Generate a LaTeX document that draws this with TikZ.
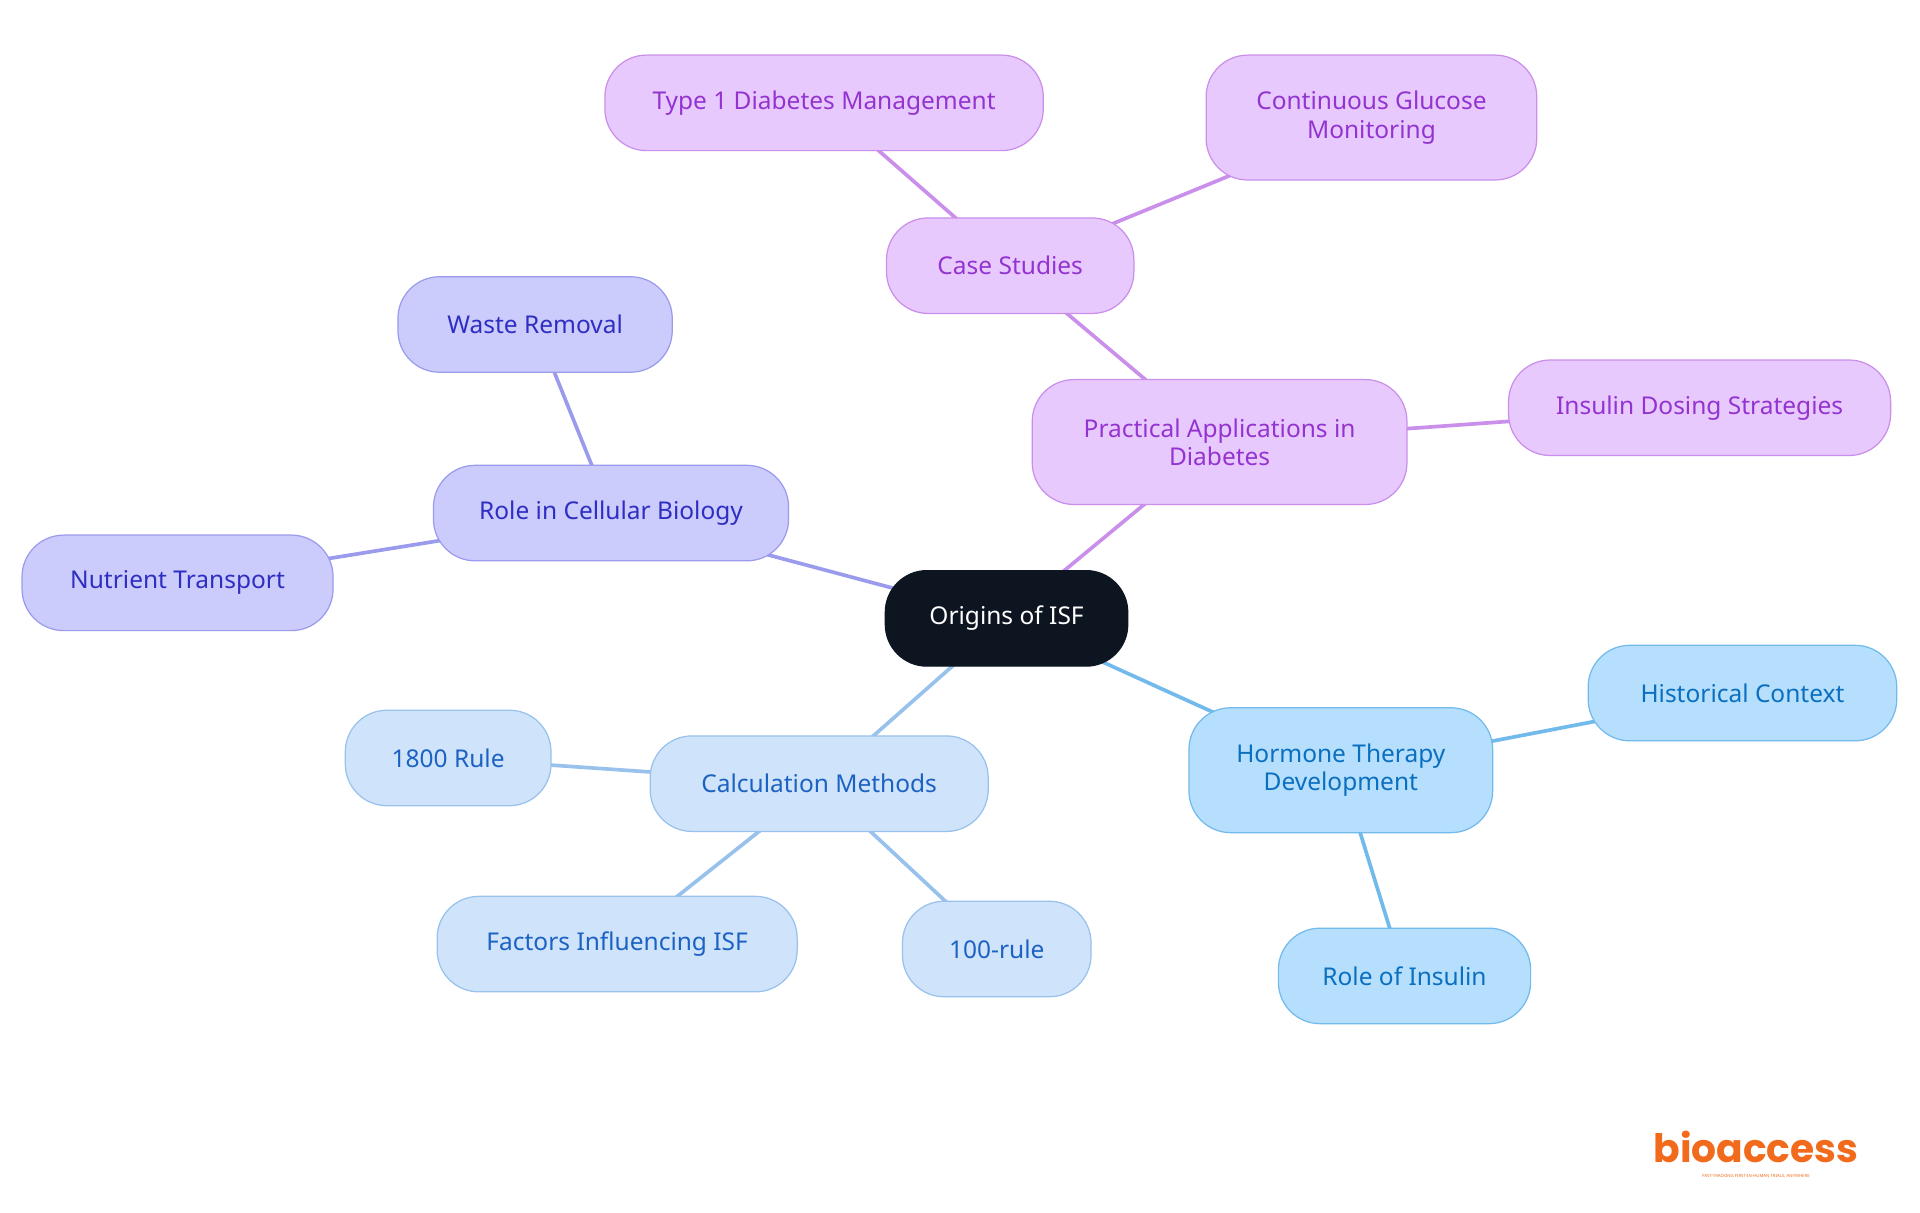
\documentclass[tikz,border=0pt]{standalone}
\usepackage{fontspec}
\setmainfont{Noto Sans}
\newfontfamily\logofont{Poppins}[UprightFont=* Bold]
\usetikzlibrary{backgrounds}
\definecolor{pfill}{HTML}{E8C9FD}\definecolor{pdraw}{HTML}{C98FEA}\definecolor{ptext}{HTML}{9333D0}
\definecolor{ifill}{HTML}{CBCBFC}\definecolor{idraw}{HTML}{9B9BEE}\definecolor{itext}{HTML}{2E2EC2}
\definecolor{lfill}{HTML}{CFE3FB}\definecolor{ldraw}{HTML}{98C1EC}\definecolor{ltext}{HTML}{1B62C2}
\definecolor{sfill}{HTML}{B5DFFC}\definecolor{sdraw}{HTML}{72B9EC}\definecolor{stext}{HTML}{0B6FC0}
\definecolor{rootc}{HTML}{0C1520}\definecolor{logo}{HTML}{F26A1B}
\tikzset{
 box/.style={rounded corners=34pt,line width=1pt,align=center,font=\fontsize{20}{23}\selectfont,inner sep=0pt},
 pn/.style={box,fill=pfill,draw=pdraw,text=ptext},
 inn/.style={box,fill=ifill,draw=idraw,text=itext},
 ln/.style={box,fill=lfill,draw=ldraw,text=ltext},
 sn/.style={box,fill=sfill,draw=sdraw,text=stext},
 ed/.style={line width=3pt}
}
\begin{document}
\begin{tikzpicture}[x=1pt,y=-1pt]
\useasboundingbox (0,0) rectangle (1568,990);
\node[box,fill=rootc,draw=rootc,text=white,minimum width=198pt,minimum height=78pt] (root) at (822,505) {Origins of ISF};
\node[pn,minimum width=306pt,minimum height=102pt] (pa) at (996,361) {Practical Applications in\\Diabetes};
\node[pn,minimum width=202pt,minimum height=78pt] (cs) at (825,217) {Case Studies};
\node[pn,minimum width=358pt,minimum height=78pt] (t1) at (673,84) {Type 1 Diabetes Management};
\node[pn,minimum width=270pt,minimum height=102pt] (cg) at (1120,96) {Continuous Glucose\\Monitoring};
\node[pn,minimum width=312pt,minimum height=78pt] (ids) at (1388,333) {Insulin Dosing Strategies};
\node[inn,minimum width=290pt,minimum height=78pt] (rc) at (499,419) {Role in Cellular Biology};
\node[inn,minimum width=224pt,minimum height=78pt] (wr) at (437,265) {Waste Removal};
\node[inn,minimum width=254pt,minimum height=78pt] (nt) at (145,476) {Nutrient Transport};
\node[ln,minimum width=276pt,minimum height=78pt] (cm) at (669,640) {Calculation Methods};
\node[ln,minimum width=168pt,minimum height=78pt] (r18) at (366,619) {1800 Rule};
\node[ln,minimum width=294pt,minimum height=78pt] (fi) at (504,771) {Factors Influencing ISF};
\node[ln,minimum width=154pt,minimum height=78pt] (r100) at (814,775) {100-rule};
\node[sn,minimum width=248pt,minimum height=102pt] (ht) at (1095,629) {Hormone Therapy\\Development};
\node[sn,minimum width=252pt,minimum height=78pt] (hc) at (1423,566) {Historical Context};
\node[sn,minimum width=206pt,minimum height=78pt] (ri) at (1147,797) {Role of Insulin};
\node[text=logo,font=\logofont\fontsize{32}{34}\selectfont,inner sep=0pt] (lg) at (1434,937) {bioaccess};
\node[text=logo,font=\fontsize{3.5}{4}\selectfont,inner sep=0pt,anchor=north] (lgs) at (1434,959) {FAST-TRACKING FIRST-IN-HUMAN TRIALS, ANYWHERE};
\begin{pgfonlayer}{background}
\draw[ed,pdraw] (root.center)--(pa.center) (pa.center)--(cs.center) (cs.center)--(t1.center) (cs.center)--(cg.center) (pa.center)--(ids.center);
\draw[ed,idraw] (root.center)--(rc.center) (rc.center)--(wr.center) (rc.center)--(nt.center);
\draw[ed,ldraw] (root.center)--(cm.center) (cm.center)--(r18.center) (cm.center)--(fi.center) (cm.center)--(r100.center);
\draw[ed,sdraw] (root.center)--(ht.center) (ht.center)--(hc.center) (ht.center)--(ri.center);
\end{pgfonlayer}
\end{tikzpicture}
\end{document}
